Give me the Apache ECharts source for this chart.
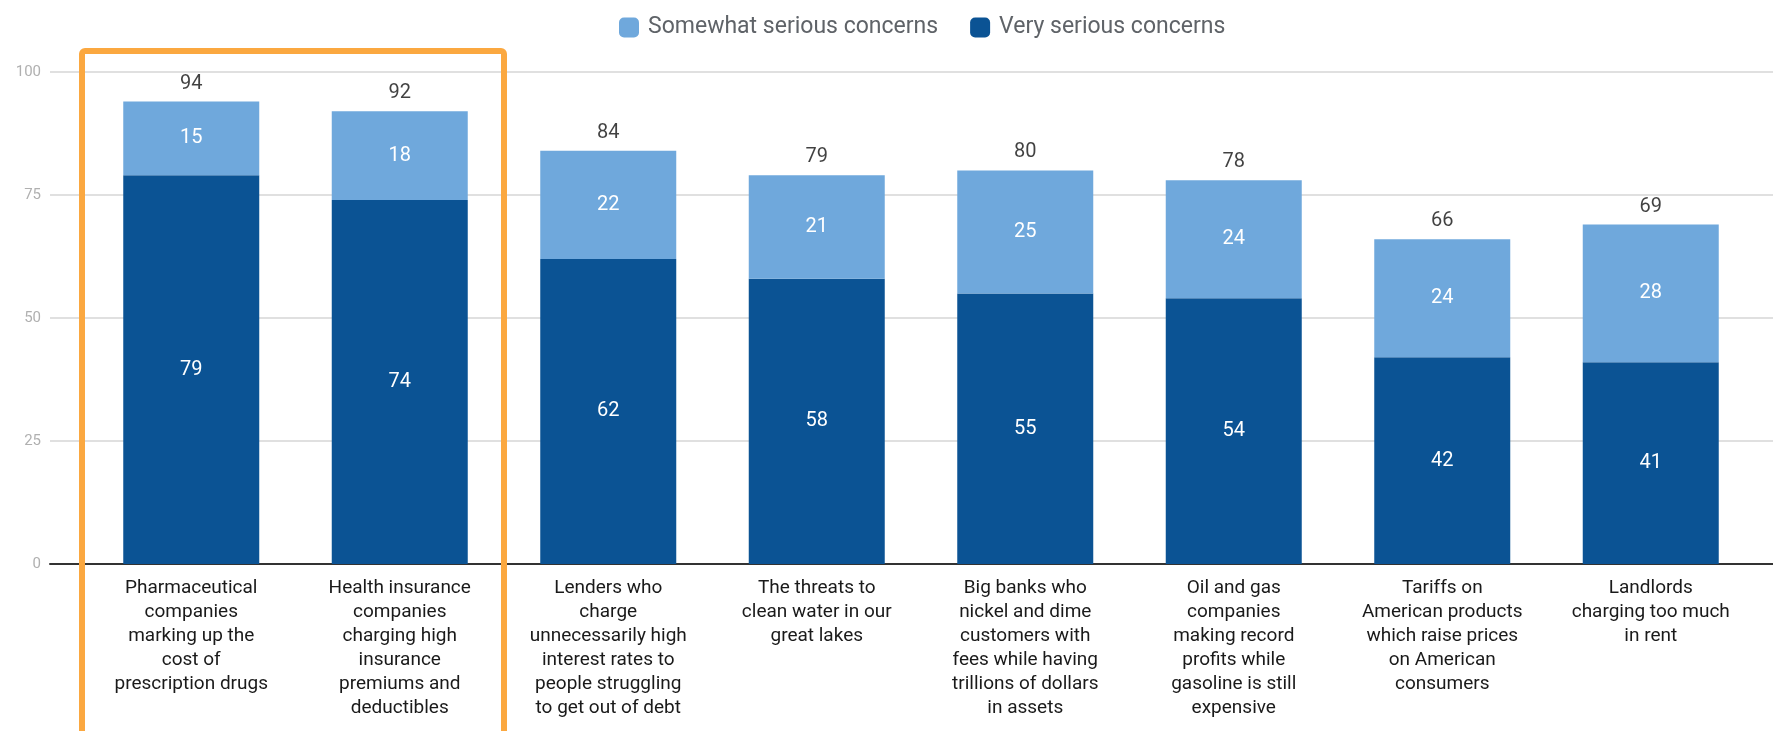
<!DOCTYPE html>
<html>
<head>
<meta charset="utf-8">
<script src="https://cdn.jsdelivr.net/npm/echarts@6/dist/echarts.min.js"></script>
<style>
html,body{margin:0;padding:0;background:#fff;}
#chart{width:1773px;height:731px;}
</style>
</head>
<body>
<div id="chart"></div>
<script>
var categories = [
  "Pharmaceutical\ncompanies\nmarking up the\ncost of\nprescription drugs",
  "Health insurance\ncompanies\ncharging high\ninsurance\npremiums and\ndeductibles",
  "Lenders who\ncharge\nunnecessarily high\ninterest rates to\npeople struggling\nto get out of debt",
  "The threats to\nclean water in our\ngreat lakes",
  "Big banks who\nnickel and dime\ncustomers with\nfees while having\ntrillions of dollars\nin assets",
  "Oil and gas\ncompanies\nmaking record\nprofits while\ngasoline is still\nexpensive",
  "Tariffs on\nAmerican products\nwhich raise prices\non American\nconsumers",
  "Landlords\ncharging too much\nin rent"
];
var verySerious = [79, 74, 62, 58, 55, 54, 42, 41];
var somewhatSerious = [15, 18, 22, 21, 25, 24, 24, 28];
var totals = [94, 92, 84, 79, 80, 78, 66, 69];
var yTicks = [0, 25, 50, 75, 100];

var chart = echarts.init(document.getElementById('chart'));
var font = 'Roboto, "Noto Sans", sans-serif';
var gridTop = 72, gridBottom = 167;

chart.setOption({
  animation: false,
  textStyle: {fontFamily: font},
  legend: {
    data: ['Somewhat serious concerns', 'Very serious concerns'],
    top: 11,
    left: 614,
    itemWidth: 20,
    itemHeight: 20,
    itemGap: 32,
    icon: 'roundRect',
    textStyle: {fontSize: 23, color: '#5f6368', fontFamily: font, padding: [0, 0, 0, 4]}
  },
  grid: [
    {left: 50, right: 0, top: gridTop, bottom: gridBottom, containLabel: false},
    {left: 87, right: 18, top: gridTop, bottom: gridBottom, containLabel: false}
  ],
  xAxis: [
    {gridIndex: 0, type: 'value', min: 0, max: 1, show: true,
     axisLine: {show: true, lineStyle: {color: '#333', width: 2}},
     axisTick: {show: false}, axisLabel: {show: false}, splitLine: {show: false}},
    {gridIndex: 1, type: 'category', data: categories,
     axisLine: {show: false}, axisTick: {show: false},
     axisLabel: {interval: 0, margin: 12, fontSize: 19, lineHeight: 24, color: '#1a1a1a', fontFamily: font, align: 'center', verticalAlign: 'top'}}
  ],
  yAxis: [
    {gridIndex: 0, type: 'value', min: yTicks[0], max: yTicks[yTicks.length - 1], interval: 25,
     axisLine: {show: false}, axisTick: {show: false},
     axisLabel: {margin: 9, fontSize: 15, color: '#b0b0b0', fontFamily: font},
     splitLine: {show: true, lineStyle: {color: '#d6d6d6', width: 1.5}}},
    {gridIndex: 1, type: 'value', min: 0, max: 100, show: false, splitLine: {show: false}}
  ],
  series: [
    {name: 'Very serious concerns', type: 'bar', stack: 'total', xAxisIndex: 1, yAxisIndex: 1,
     data: verySerious, barWidth: 136,
     itemStyle: {color: '#0b5394'},
     label: {show: true, position: 'inside', color: '#fff', fontSize: 20, fontFamily: font}},
    {name: 'Somewhat serious concerns', type: 'bar', stack: 'total', xAxisIndex: 1, yAxisIndex: 1,
     data: somewhatSerious, barWidth: 136,
     itemStyle: {color: '#6fa8dc'},
     label: {show: true, position: 'inside', color: '#fff', fontSize: 20, fontFamily: font}},
    {name: 'Total', type: 'scatter', xAxisIndex: 1, yAxisIndex: 1,
     data: totals, symbolSize: 0, silent: true,
     label: {show: true, position: 'top', distance: 8, color: '#111', fontSize: 20, fontFamily: font}}
  ]
});

// Orange highlight box around the first two categories
var c0 = chart.convertToPixel({xAxisIndex: 1}, 0);
var c1 = chart.convertToPixel({xAxisIndex: 1}, 1);
var band = c1 - c0;
var boxLeft = c0 - band / 2 - 5;
var boxRight = c1 + band / 2;
chart.setOption({
  graphic: [{
    type: 'rect', z: 100,
    shape: {x: boxLeft, y: 51, width: boxRight - boxLeft, height: 740, r: 3},
    style: {fill: 'none', stroke: '#fba840', lineWidth: 6}
  }]
});
</script>
</body>
</html>
